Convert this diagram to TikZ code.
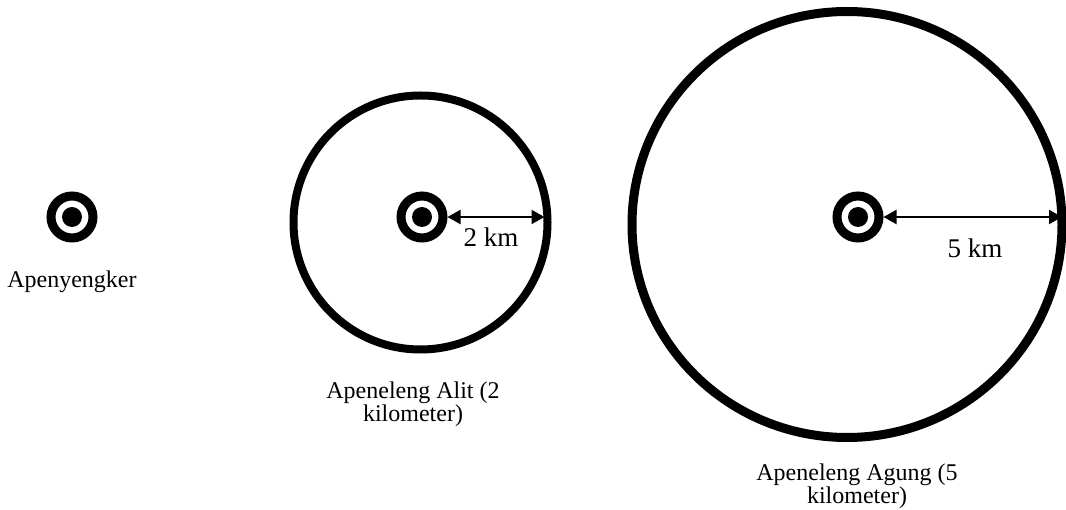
\documentclass[tikz,border=0pt]{standalone}
\usepackage{fontspec}
\setmainfont{Liberation Serif}
\usetikzlibrary{arrows.meta,shapes.geometric}
\begin{document}
\begin{tikzpicture}[x=1pt,y=-1pt,
 ring/.style={circle,draw,line width=9pt,minimum size=42pt,inner sep=0pt},
 dot/.style={circle,fill,minimum size=20pt,inner sep=0pt},
 zone/.style={draw,line width=8pt,inner sep=0pt,outer sep=0pt},
 dim/.style={line width=2.2pt,{Triangle[length=13pt,width=14pt]}-{Triangle[length=13pt,width=14pt]}},
 lbl/.style={font=\fontsize{24}{22.5}\selectfont,align=center,inner sep=0pt},
 km/.style={font=\fontsize{27}{29}\selectfont,inner sep=0pt}]
\useasboundingbox (0,0) rectangle (1066,510);
% zones
\node[zone,circle,minimum size=254pt] (z2) at (420.5,222.5) {};
\node[zone,ellipse,line width=9pt,minimum width=430pt,minimum height=426pt] (z3) at (847,224.5) {};
% targets
\node[ring] (t1) at (72,217) {};
\node[dot] (d1) at (t1) {};
\node[ring] (t2) at (422,217) {};
\node[dot] (d2) at (t2) {};
\node[ring] (t3) at (858,217) {};
\node[dot] (d3) at (t3) {};
% dimension arrows
\draw[dim,shorten >=3pt] (t2.east) -- (t2.east -| z2.east);
\draw[dim] (t3.east) -- (t3.east -| z3.east);
\node[km,anchor=base] (k2) at (491,247) {2 km};
\node[km,anchor=base] (k3) at (975,258) {5 km};
% labels
\node[lbl] (l1) at (72,282) {Apenyengker};
\node[lbl] (l2) at (413,404) {Apeneleng Alit (2\\kilometer)};
\node[lbl] (l3) at (857,486) {Apeneleng Agung (5\\kilometer)};
\end{tikzpicture}
\end{document}
